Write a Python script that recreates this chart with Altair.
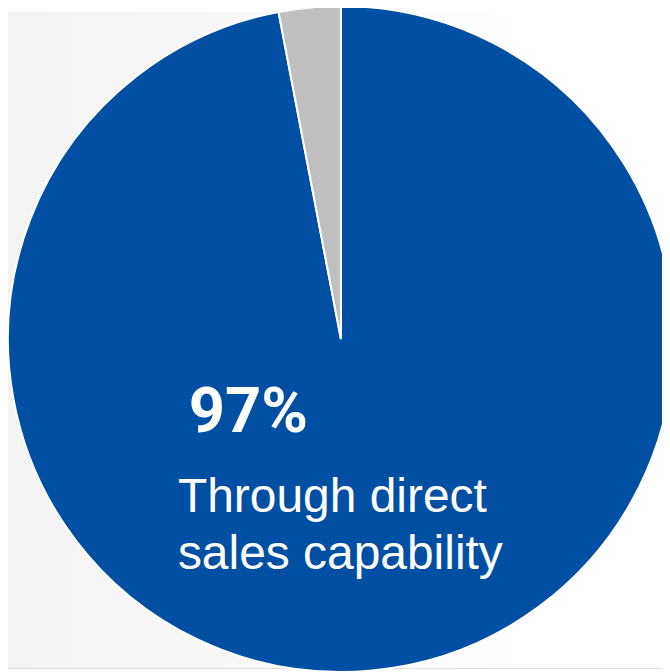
import altair as alt
import pandas as pd

categories = ["Through direct sales capability", "Other"]
shares = [97, 3]
order = [1, 2]
colors = ["#004FA3", "#BFBFBF"]

df = pd.DataFrame({"category": categories, "share": shares, "order": order})

W, H = 662, 664
CX, CY, R = 337, 331, 337

bg = alt.Chart(pd.DataFrame({"a": [0]})).mark_rect(
    color=alt.LinearGradient(
        gradient="linear", x1=0, x2=1, y1=0, y2=0,
        stops=[alt.GradientStop(color="#F3F3F3", offset=0),
               alt.GradientStop(color="#FFFFFF", offset=0.8)]
    )
).encode(x=alt.value(0), x2=alt.value(W), y=alt.value(0), y2=alt.value(H))

pie = alt.Chart(df).mark_arc(outerRadius=R, stroke="white", strokeWidth=2).encode(
    theta=alt.Theta("share:Q", stack=True),
    order=alt.Order("order:Q"),
    color=alt.Color("category:N", scale=alt.Scale(domain=categories, range=colors), legend=None),
    x=alt.value(CX), y=alt.value(CY),
)

pct = alt.Chart(pd.DataFrame({"t": ["97%"]})).mark_text(
    font="Roboto", fontWeight="bold", fontSize=64, color="white", align="left", baseline="alphabetic"
).encode(text="t:N", x=alt.value(183), y=alt.value(425))

label = alt.Chart(pd.DataFrame({"t": [["Through direct", "sales capability"]]})).mark_text(
    font="Liberation Sans", fontSize=48.5, color="white", align="left", baseline="alphabetic", lineHeight=58
).encode(text="t:N", x=alt.value(172), y=alt.value(506))

chart = alt.layer(bg, pie, pct, label).properties(
    width=W, height=H, padding=0, autosize=alt.AutoSizeParams(type="none"),
).configure_view(stroke=None).configure(background="white")

chart.save("out.html", embed_options={"renderer": "svg", "actions": False})
